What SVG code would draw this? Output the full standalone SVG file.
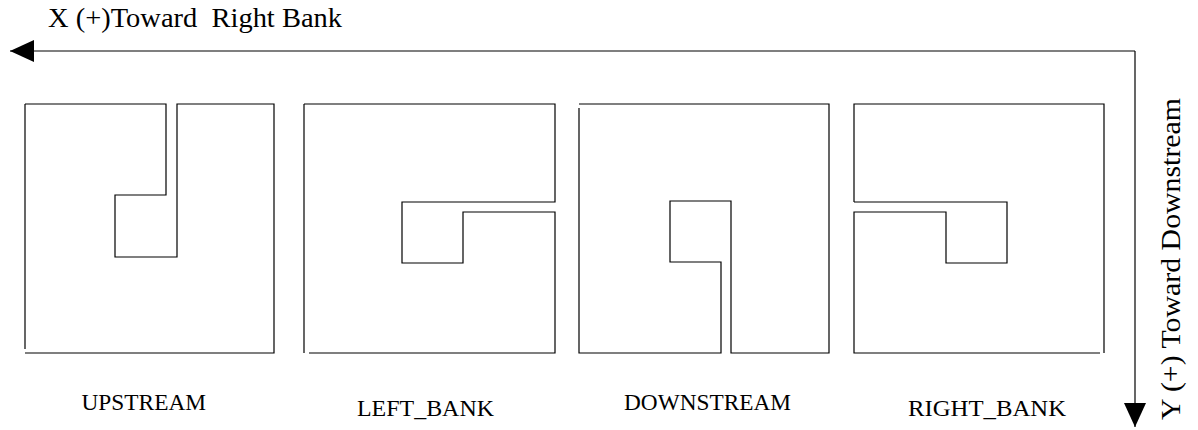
<svg xmlns="http://www.w3.org/2000/svg" width="1198" height="430" viewBox="0 0 1198 430">
<style>
.ln{fill:none;stroke:#000;stroke-width:1.2;stroke-linejoin:miter}
.lbl{font-family:"Liberation Serif","Times New Roman",serif;font-size:23.5px;fill:#000}
.ax{font-family:"Liberation Serif","Times New Roman",serif;font-size:28px;fill:#000;white-space:pre}
</style>
<defs>
<marker id="ah" markerUnits="userSpaceOnUse" markerWidth="24" markerHeight="22" refX="24" refY="11" orient="auto">
<path d="M0,0 L24,11 L0,22 Z" fill="#000"/>
</marker>
</defs>
<rect width="1198" height="430" fill="#fff"/>
<g id="connectors">
<path class="ln" d="M1135,51 H10" marker-end="url(#ah)"/>
<path class="ln" d="M1135,51 V427" marker-end="url(#ah)"/>
</g>
<g id="axis-labels">
<text class="ax" xml:space="preserve" x="48" y="27" textLength="294" lengthAdjust="spacingAndGlyphs">X (+)Toward  Right Bank</text>
<text class="ax" transform="translate(1180,420) rotate(-90)" x="0" y="0" textLength="322" lengthAdjust="spacingAndGlyphs">Y (+) Toward Downstream</text>
</g>
<g id="upstream">
<path class="ln" d="M25,104 H166 V195 H115 V257 H177 V104 H274 V353 H25"/>
<path class="ln" d="M25,104 V349"/>
<text class="lbl" x="81.5" y="409.5" textLength="124.5" lengthAdjust="spacingAndGlyphs">UPSTREAM</text>
</g>
<g id="left_bank">
<path class="ln" d="M304,104 H555 V202 H402 V263 H463 V212 H555 V353 H309"/>
<path class="ln" d="M304,104 V353"/>
<text class="lbl" x="357" y="416" textLength="137" lengthAdjust="spacingAndGlyphs">LEFT_BANK</text>
</g>
<g id="downstream">
<path class="ln" d="M579,104 H829 V353 H731 V201 H670 V262 H721 V353 H579 V108"/>
<text class="lbl" x="624" y="410" textLength="167" lengthAdjust="spacingAndGlyphs">DOWNSTREAM</text>
</g>
<g id="right_bank">
<path class="ln" d="M854,202 V104 H1104 V353"/>
<path class="ln" d="M854,202 H1007 V263 H946 V212 H854 V353 H1100"/>
<text class="lbl" x="908" y="416" textLength="158" lengthAdjust="spacingAndGlyphs">RIGHT_BANK</text>
</g>
</svg>
